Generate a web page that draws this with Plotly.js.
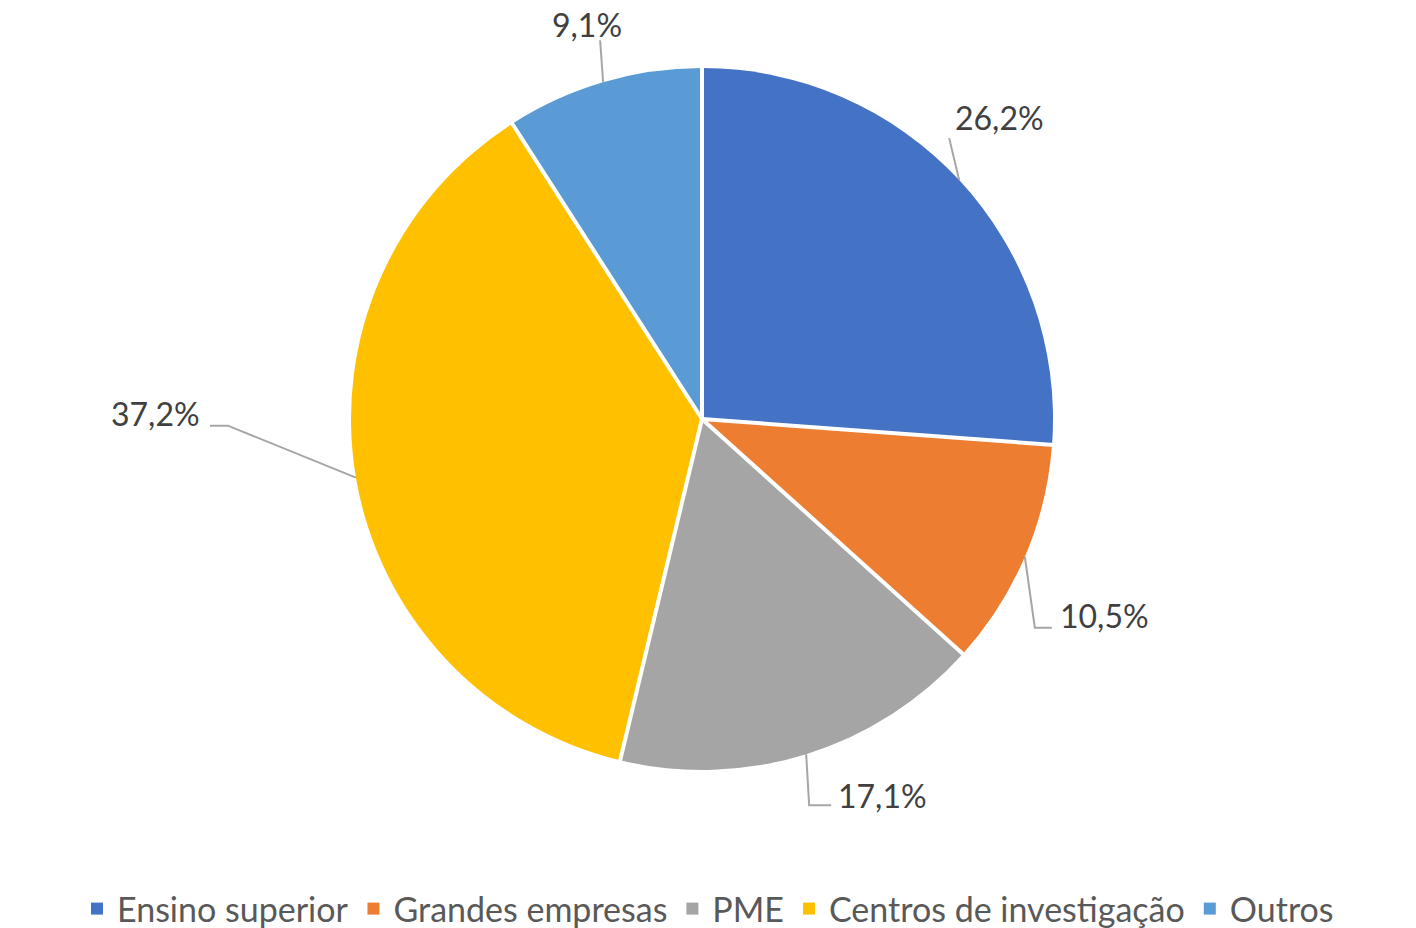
<!DOCTYPE html>
<html><head><meta charset="utf-8">
<script src="https://cdn.plot.ly/plotly-3.0.1.min.js"></script>
<style>html,body{margin:0;padding:0;background:#fff}#chart{width:1416px;height:928px}</style>
</head><body><div id="chart"></div>
<script>
const categories = ["Ensino superior", "Grandes empresas", "PME", "Centros de investigação", "Outros"];
const values = [26.2, 10.5, 17.1, 37.2, 9.1];
const labelsText = ["26,2%", "10,5%", "17,1%", "37,2%", "9,1%"];
const colors = ["#4472C4", "#ED7D31", "#A5A5A5", "#FFC000", "#5B9BD5"];

// style: leader line bend points and text offsets relative to slice edge anchor (px)
const leaderStyle = [
  {pts: [[-10, -42]], text: [40, -63], anchor: "center"},
  {pts: [[10, 71], [27, 71]], text: [33, 59], anchor: "left"},
  {pts: [[3, 51], [25, 51]], text: [30, 41], anchor: "left"},
  {pts: [[-128, -52], [-146, -52]], text: [-154, -64], anchor: "right"},
  {pts: [[-3, -42]], text: [-16, -58], anchor: "center"}
];

const W = 1416, H = 928;
const cx = 702, cy = 419, R = 351;
const dom = {x: [(cx - R) / W, (cx + R) / W], y: [1 - (cy + R) / H, 1 - (cy - R) / H]};
const px = x => x / W, py = y => 1 - y / H;

const total = values.reduce((a, b) => a + b, 0);
const shapes = [], annotations = [];
let cum = 0;
values.forEach((v, i) => {
  // white separator at the slice start boundary
  const a0 = cum / total * 2 * Math.PI;
  shapes.push({type: "line", xref: "paper", yref: "paper",
    x0: px(cx), y0: py(cy), x1: px(cx + (R + 2) * Math.sin(a0)), y1: py(cy - (R + 2) * Math.cos(a0)),
    line: {color: "#FFFFFF", width: 4}});
  const mid = (cum + v / 2) / total * 2 * Math.PI;
  cum += v;
  const ax = cx + R * Math.sin(mid), ay = cy - R * Math.cos(mid);
  const st = leaderStyle[i];
  let path = `M${px(ax)},${py(ay)}`;
  st.pts.forEach(p => { path += ` L${px(ax + p[0])},${py(ay + p[1])}`; });
  shapes.push({type: "path", xref: "paper", yref: "paper", path: path,
    line: {color: "#A6A6A6", width: 2}});
  annotations.push({xref: "paper", yref: "paper", x: px(ax + st.text[0]), y: py(ay + st.text[1]),
    text: labelsText[i], showarrow: false, xanchor: st.anchor, yanchor: "middle",
    font: {family: "Lato, 'Open Sans', sans-serif", size: 32, color: "#404040"}});
});

const data = [{
  type: "pie", labels: categories, values: values, sort: false, direction: "clockwise", rotation: 0,
  marker: {colors: colors, line: {color: "#FFFFFF", width: 0}},
  textinfo: "none", hoverinfo: "label+percent", domain: dom
}];

const layout = {
  width: W, height: H, margin: {l: 0, r: 0, t: 0, b: 0, autoexpand: false},
  paper_bgcolor: "#FFFFFF", showlegend: true,
  legend: {orientation: "h", x: 0.5, xanchor: "center", y: 1 - 909 / H, yanchor: "middle",
    font: {family: "Lato, 'Open Sans', sans-serif", size: 34, color: "#595959"}, itemwidth: 30},
  shapes: shapes, annotations: annotations
};
Plotly.newPlot("chart", data, layout, {displayModeBar: false, staticPlot: true});
</script></body></html>
